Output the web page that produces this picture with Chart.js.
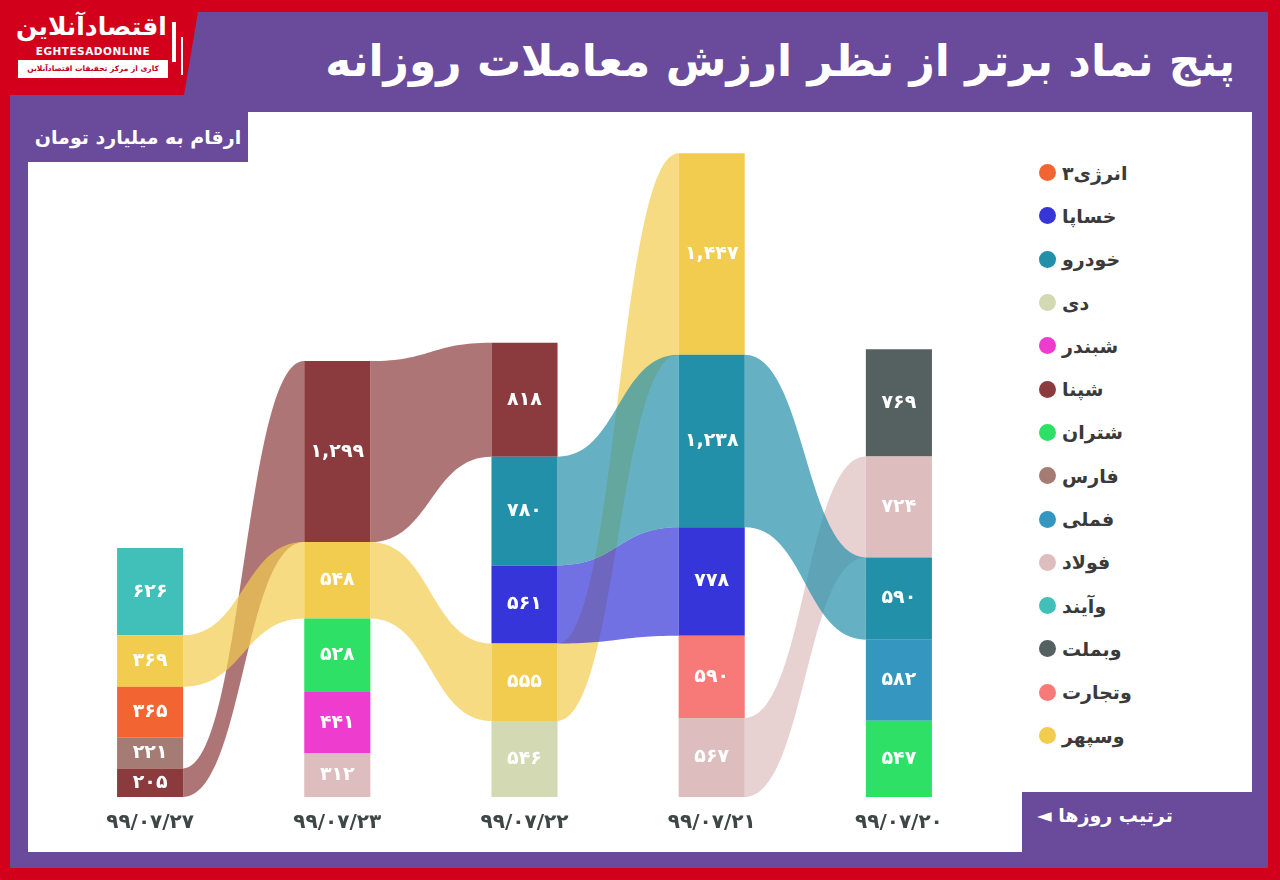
<!DOCTYPE html>
<html lang="fa">
<head>
<meta charset="utf-8">
<title>پنج نماد برتر از نظر ارزش معاملات روزانه</title>
<script src="https://cdn.jsdelivr.net/npm/chart.js@4.4.0/dist/chart.umd.min.js"></script>
<style>
  html, body { margin: 0; padding: 0; }
  body {
    width: 1280px; height: 880px; position: relative; overflow: hidden;
    background: #d2001b; font-family: "DejaVu Sans", sans-serif;
  }
  #frame { position: absolute; left: 10px; top: 12px; width: 1258px; height: 856px; background: #694a9b; }
  #logo {
    position: absolute; left: 0; top: 0; width: 200px; height: 95px; background: #d2001b;
    clip-path: polygon(0 0, 100% 0, 92% 100%, 0 100%);
  }
  #logo .fa { position: absolute; left: 16px; top: 10px; width: 150px; text-align: center; color: #fff; font-weight: bold; font-size: 25px; line-height: 34px; }
  #logo .en { position: absolute; left: 18px; top: 45px; width: 150px; text-align: center; color: #fff; font-weight: bold; font-size: 10.5px; letter-spacing: 0.5px; }
  #logo .sub { position: absolute; left: 18px; top: 60px; width: 150px; height: 18px; background: #fff; color: #c0001a; font-weight: bold; font-size: 7.5px; line-height: 18px; text-align: center; white-space: nowrap; overflow: hidden; }
  #logo .bars { position: absolute; left: 172px; top: 22px; width: 4px; height: 40px; background: #fff; box-shadow: 8px 14px 0 -1px #fff; }
  #title {
    position: absolute; right: 45px; top: 26px; color: #fff; font-weight: bold; font-size: 44px;
    line-height: 70px; white-space: nowrap;
  }
  #plot-bg { position: absolute; left: 28px; top: 112px; width: 1224px; height: 740px; background: #fff; }
  #unit {
    position: absolute; left: 28px; top: 112px; width: 220px; height: 50px; background: #694a9b;
    color: #fff; font-weight: bold; font-size: 19px; line-height: 50px; text-align: center;
  }
  #order {
    position: absolute; left: 1022px; top: 792px; width: 230px; height: 60px; background: #694a9b;
    color: #fff; font-weight: bold; font-size: 19px; line-height: 46px;
  }
  #order span { position: absolute; left: 15px; top: 0; }
  #chart-box { position: absolute; left: 28px; top: 112px; width: 1000px; height: 740px; }
  #legend { position: absolute; left: 1039px; top: 151px; }
  .item { display: flex; align-items: center; height: 43.3px; }
  .dot { width: 17px; height: 17px; border-radius: 50%; margin-right: 6px; }
  .name { color: #3a3a3a; font-weight: bold; font-size: 19px; }
</style>
</head>
<body>
<div id="frame"></div>
<div id="logo">
  <div class="fa">اقتصادآنلاین</div>
  <div class="en">EGHTESADONLINE</div>
  <div class="sub" dir="rtl">کاری از مرکز تحقیقات اقتصادآنلاین</div>
  <div class="bars"></div>
</div>
<div id="title" dir="rtl">پنج نماد برتر از نظر ارزش معاملات روزانه</div>
<div id="plot-bg"></div>
<div id="chart-box"><canvas id="flow-chart" width="1000" height="740"></canvas></div>
<div id="unit" dir="rtl">ارقام به میلیارد تومان</div>
<div id="order"><span dir="rtl">ترتیب روزها ◄</span></div>
<div id="legend"></div>

<script>
// dates, left to right
const dates = ['۹۹/۰۷/۲۷', '۹۹/۰۷/۲۳', '۹۹/۰۷/۲۲', '۹۹/۰۷/۲۱', '۹۹/۰۷/۲۰'];

// legend symbols and their colours
const symbols = ['انرژی۳', 'خساپا', 'خودرو', 'دی', 'شبندر', 'شپنا', 'شتران',
                 'فارس', 'فملی', 'فولاد', 'وآیند', 'وبملت', 'وتجارت', 'وسپهر'];
const symbolColors = ['#f26532', '#3535d9', '#2390a9', '#d3d9b2', '#ee3ccf', '#8b3b3d', '#2fe067',
                      '#a47c73', '#3597bf', '#ddbdbe', '#40c0b8', '#556061', '#f87a78', '#f2cc4f'];

// each day: symbols and values from bottom to top (billion toman)
const day27Symbols = ['شپنا', 'فارس', 'انرژی۳', 'وسپهر', 'وآیند'];
const day27Values  = [205, 221, 365, 369, 626];
const day23Symbols = ['فولاد', 'شبندر', 'شتران', 'وسپهر', 'شپنا'];
const day23Values  = [312, 441, 528, 548, 1299];
const day22Symbols = ['دی', 'وسپهر', 'خساپا', 'خودرو', 'شپنا'];
const day22Values  = [546, 555, 561, 780, 818];
const day21Symbols = ['فولاد', 'وتجارت', 'خساپا', 'خودرو', 'وسپهر'];
const day21Values  = [567, 590, 778, 1238, 1447];
const day20Symbols = ['شتران', 'فملی', 'خودرو', 'فولاد', 'وبملت'];
const day20Values  = [547, 582, 590, 724, 769];

const daySymbols = [day27Symbols, day23Symbols, day22Symbols, day21Symbols, day20Symbols];
const dayValues = [day27Values, day23Values, day22Values, day21Values, day20Values];

function colorOf(sym) {
    return symbolColors[symbols.indexOf(sym)];
}

// 1299 -> ۱,۲۹۹
function toFa(n) {
    const s = n.toLocaleString('en-US');
    return s.replace(/[0-9]/g, d => '۰۱۲۳۴۵۶۷۸۹'[d]);
}

// build legend
const legend = document.getElementById('legend');
symbols.forEach((sym, i) => {
    const row = document.createElement('div');
    row.className = 'item';
    row.innerHTML = `<span class="dot" style="background:${symbolColors[i]}"></span><span class="name" dir="rtl">${sym}</span>`;
    legend.appendChild(row);
});

// one dataset per stack level
const datasets = [0, 1, 2, 3, 4].map(k => ({
    label: 'level ' + k,
    data: dayValues.map(v => v[k]),
    backgroundColor: daySymbols.map(s => colorOf(s[k])),
    borderWidth: 0,
    barPercentage: 0.353,
    categoryPercentage: 1
}));

// ribbons between same symbol on neighbouring days
const ribbons = {
    id: 'ribbons',
    beforeDatasetsDraw(chart) {
        const ctx = chart.ctx;
        for (let d = 0; d < dates.length - 1; d++) {
            daySymbols[d].forEach((sym, k) => {
                const k2 = daySymbols[d + 1].indexOf(sym);
                if (k2 < 0) return;
                const a = chart.getDatasetMeta(k).data[d];
                const b = chart.getDatasetMeta(k2).data[d + 1];
                const x0 = a.x + a.width / 2;
                const x1 = b.x - b.width / 2;
                const xm = (x0 + x1) / 2;
                ctx.save();
                ctx.globalAlpha = 0.7;
                ctx.fillStyle = colorOf(sym);
                ctx.beginPath();
                ctx.moveTo(x0, a.y);
                ctx.bezierCurveTo(xm, a.y, xm, b.y, x1, b.y);
                ctx.lineTo(x1, b.base);
                ctx.bezierCurveTo(xm, b.base, xm, a.base, x0, a.base);
                ctx.closePath();
                ctx.fill();
                ctx.restore();
            });
        }
    }
};

// white values inside bars
const barValues = {
    id: 'barValues',
    afterDatasetsDraw(chart) {
        const ctx = chart.ctx;
        ctx.save();
        ctx.font = 'bold 19px "DejaVu Sans"';
        ctx.fillStyle = '#ffffff';
        ctx.textAlign = 'center';
        ctx.textBaseline = 'middle';
        chart.data.datasets.forEach((ds, k) => {
            chart.getDatasetMeta(k).data.forEach((el, d) => {
                ctx.fillText(toFa(ds.data[d]), el.x, (el.y + el.base) / 2);
            });
        });
        ctx.restore();
    }
};

new Chart(document.getElementById('flow-chart'), {
    type: 'bar',
    data: {
        labels: dates,
        datasets: datasets
    },
    options: {
        responsive: false,
        animation: false,
        layout: {
            padding: { left: 28.5, right: 35.5, top: 30, bottom: 15 }
        },
        plugins: {
            legend: { display: false },
            tooltip: { enabled: false }
        },
        scales: {
            x: {
                stacked: true,
                grid: { display: false },
                border: { display: false },
                ticks: {
                    color: '#3e4646',
                    padding: 6,
                    font: { family: 'DejaVu Sans', size: 20, weight: 'bold' }
                },
                afterFit: (scale) => { scale.height = 40; }
            },
            y: {
                stacked: true,
                display: false,
                min: 0,
                max: 4700
            }
        }
    },
    plugins: [ribbons, barValues]
});
</script>
</body>
</html>
